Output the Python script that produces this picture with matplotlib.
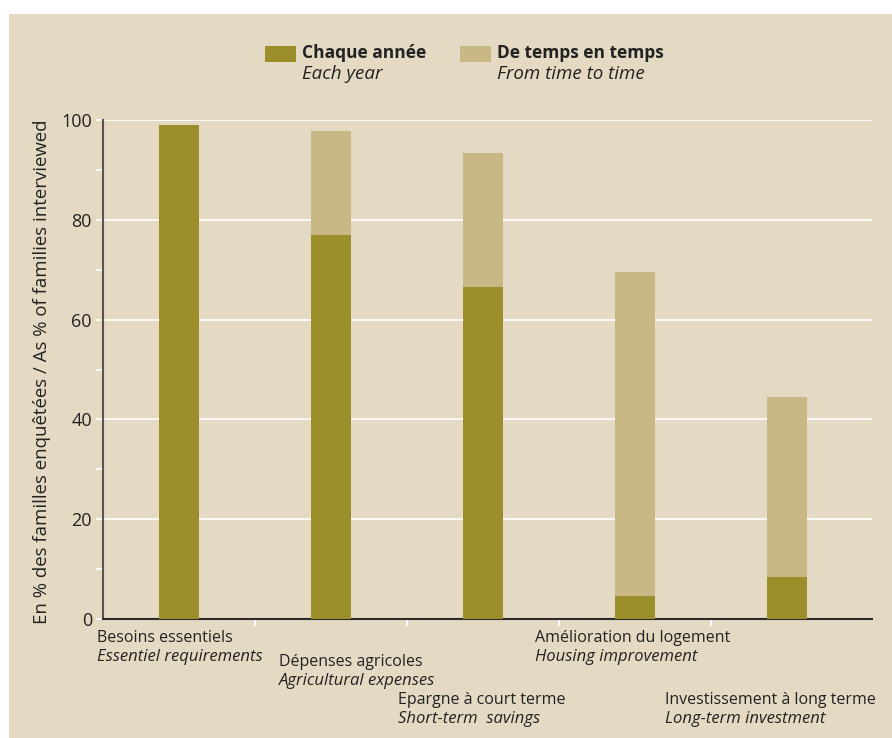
import matplotlib
matplotlib.use("Agg")
import matplotlib.pyplot as plt
from matplotlib.patches import Rectangle
from matplotlib.transforms import blended_transform_factory

plt.rcParams['font.family'] = ['Open Sans', 'DejaVu Sans']

# Uses of money, % of families interviewed
categories_fr = ["Besoins essentiels", "Dépenses agricoles", "Epargne à court terme",
                 "Amélioration du logement", "Investissement à long terme"]
categories_en = ["Essentiel requirements", "Agricultural expenses", "Short-term  savings",
                 "Housing improvement", "Long-term investment"]
each_year = [99.0, 77.0, 66.5, 4.6, 8.4]
time_to_time = [0.0, 20.8, 26.8, 65.0, 36.0]

# label placement: x offset from slot start (data units), vertical pixel row
label_dx = [-0.04, 0.16, -0.06, -0.16, -0.30]
label_row = [638, 662, 700, 638, 700]

BG = "#E4DAC3"
DARK = "#9B8E2A"
LIGHT = "#C7B886"
W, H = 892, 738

fig = plt.figure(figsize=(W / 100, H / 100), dpi=100)
fig.patch.set_facecolor("white")
fig.patches.append(Rectangle((9 / W, 0), 1, 1 - 14 / H, transform=fig.transFigure,
                             facecolor=BG, edgecolor="none", zorder=-5))

ax = fig.add_axes([103 / W, 1 - 619 / H, (872 - 103) / W, (619 - 120) / H])
ax.set_facecolor(BG)

x = [i + 0.5 for i in range(len(categories_fr))]
ax.bar(x, each_year, width=0.265, color=DARK, zorder=3)
ax.bar(x, time_to_time, width=0.265, bottom=each_year, color=LIGHT, zorder=3)

ax.set_xlim(0, 5.06)
ax.set_ylim(0, 100)
ax.set_yticks(range(0, 101, 20))
ax.set_yticks(range(10, 100, 20), minor=True)
ax.set_xticks([1, 2, 3, 4])
ax.set_xticklabels([])
ax.yaxis.grid(True, color="white", linewidth=1.2, zorder=1)
ax.set_axisbelow(True)
ax.tick_params(axis="y", which="both", direction="out", length=5, width=1.2,
               color="white", labelsize=13, labelcolor="#222222", pad=3)
ax.tick_params(axis="x", direction="out", length=5, width=1.5, color="white")

for side in ("top", "right"):
    ax.spines[side].set_visible(False)
ax.spines["left"].set_color("#5a5550")
ax.spines["left"].set_linewidth(1.5)
ax.spines["bottom"].set_color("#2a2a2a")
ax.spines["bottom"].set_linewidth(1.5)

fig.text(42 / W, 1 - 372 / H, "En % des familles enquêtées / As % of families interviewed",
         rotation=90, ha="center", va="center", fontsize=13.4, color="#222222")

# staggered two-line category labels under the axis
trans = blended_transform_factory(ax.transData, fig.transFigure)
for i in range(len(categories_fr)):
    lx = i + label_dx[i]
    row = label_row[i]
    ax.text(lx, 1 - row / H, categories_fr[i], transform=trans, ha="left", va="center",
            fontsize=11.5, color="#222222", clip_on=False)
    ax.text(lx, 1 - (row + 19) / H, categories_en[i], transform=trans, ha="left",
            va="center", fontsize=12, style="italic", color="#222222", clip_on=False)

# legend
legend_items = [(265, DARK, "Chaque année", "Each year"),
                (460, LIGHT, "De temps en temps", "From time to time")]
for px, col, fr, en in legend_items:
    fig.patches.append(Rectangle((px / W, 1 - 62 / H), 31 / W, 16 / H,
                                 transform=fig.transFigure, facecolor=col,
                                 edgecolor="none"))
    fig.text((px + 37) / W, 1 - 53 / H, fr, ha="left", va="center", fontsize=12.5,
             fontweight="bold", color="#222222")
    fig.text((px + 37) / W, 1 - 74 / H, en, ha="left", va="center", fontsize=13.5,
             style="italic", color="#222222")

fig.savefig("out.png", dpi=100, facecolor=fig.get_facecolor())
